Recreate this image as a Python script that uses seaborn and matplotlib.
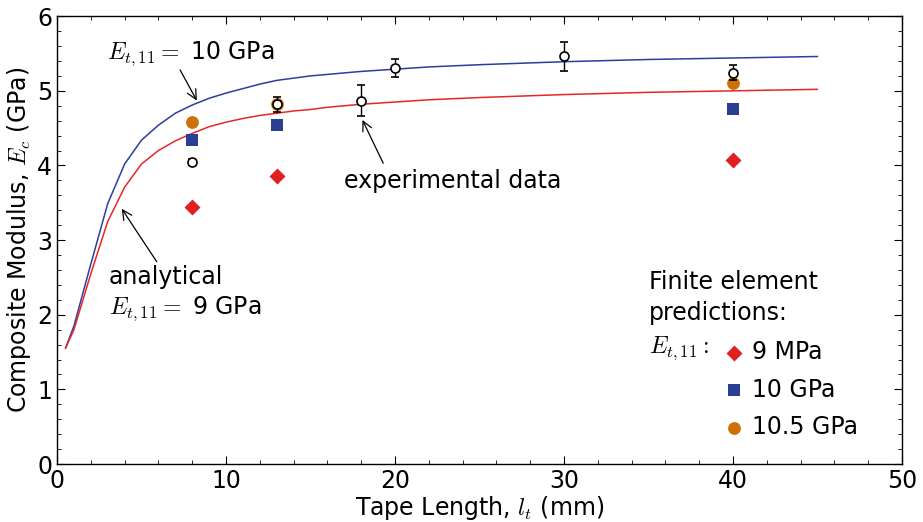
import numpy as np
import pandas as pd
import matplotlib
matplotlib.use("Agg")
import matplotlib.pyplot as plt
import seaborn as sns

# ── Data ────────────────────────────────────────────────────
# analytical curves
tape_len = [0.5, 1, 2, 3, 4, 5, 6, 7, 8, 9, 10, 11, 12, 13, 14, 15, 16, 17, 18,
            20, 22, 25, 30, 35, 40, 45]
analytic_10gpa = [1.55, 1.85, 2.68, 3.49, 4.02, 4.34, 4.54, 4.70, 4.81, 4.90, 4.97,
                  5.03, 5.09, 5.14, 5.17, 5.20, 5.22, 5.24, 5.26, 5.29, 5.32, 5.35,
                  5.39, 5.42, 5.44, 5.46]
analytic_9gpa = [1.55, 1.80, 2.55, 3.25, 3.71, 4.02, 4.20, 4.33, 4.43, 4.52, 4.58,
                 4.63, 4.67, 4.70, 4.73, 4.75, 4.78, 4.80, 4.82, 4.85, 4.88, 4.91,
                 4.95, 4.98, 5.00, 5.02]

# experimental data
exp_len = [8, 13, 18, 20, 30, 40]
exp_mod = [4.05, 4.82, 4.87, 5.30, 5.46, 5.24]
exp_err = [0.04, 0.10, 0.21, 0.12, 0.19, 0.10]

# finite element predictions
fe_len = [8, 13, 40]
fe_9mpa = [3.45, 3.86, 4.08]
fe_10gpa = [4.34, 4.54, 4.76]
fe_105gpa = [4.58, 4.82, 5.10]

# ── Style ───────────────────────────────────────────────────
sns.set_style("ticks", {"xtick.direction": "in", "ytick.direction": "in"})
plt.rcParams["font.family"] = ["DejaVu Sans"]
plt.rcParams["mathtext.fontset"] = "cm"
plt.rcParams["font.size"] = 17
for key in ["text.color", "axes.labelcolor", "xtick.color", "ytick.color",
            "axes.edgecolor"]:
    plt.rcParams[key] = "black"

BLUE = "#2a3f9e"
RED = "#e8262a"
SQ_BLUE = "#283f94"
ORANGE = "#cc7107"
DIAMOND_RED = "#e01f22"
FS = 17

fig = plt.figure(figsize=(9.23, 5.22), dpi=100)
ax = fig.add_axes([0.0618, 0.111, 0.9155, 0.858])

# ── Analytical curves ───────────────────────────────────────
sns.lineplot(x=tape_len, y=analytic_10gpa, color=BLUE, lw=1.1, ax=ax)
sns.lineplot(x=tape_len, y=analytic_9gpa, color=RED, lw=1.1, ax=ax)

# ── FE predictions ──────────────────────────────────────────
h1 = ax.scatter(fe_len, fe_9mpa, marker="D", s=66, color=DIAMOND_RED,
                linewidths=0, zorder=3, label="9 MPa")
h2 = ax.scatter(fe_len, fe_10gpa, marker="s", s=80, color=SQ_BLUE,
                linewidths=0, zorder=3, label="10 GPa")
h3 = ax.scatter(fe_len, fe_105gpa, marker="o", s=85, color=ORANGE,
                linewidths=0, zorder=3, label="10.5 GPa")

# ── Experimental data ───────────────────────────────────────
ax.errorbar(exp_len, exp_mod, yerr=exp_err, fmt="o", ms=6.5, mfc="white",
            mec="black", mew=1.2, ecolor="black", elinewidth=1.0, capsize=3,
            capthick=1.0, zorder=4)

# ── Axes ────────────────────────────────────────────────────
ax.set_xlim(0, 50)
ax.set_ylim(0, 6)
ax.set_xticks(np.arange(0, 51, 10))
ax.set_yticks(np.arange(0, 7, 1))
ax.set_xticks(np.arange(0, 51, 2), minor=True)
ax.set_yticks(np.arange(0, 6.01, 0.2), minor=True)
ax.tick_params(which="both", direction="in", top=True, right=True, labelsize=FS)
ax.tick_params(which="major", length=6, width=0.8)
ax.tick_params(which="minor", length=3, width=0.6)
for s in ax.spines.values():
    s.set_color("black")
    s.set_linewidth(1.0)
ax.set_xlabel(r"Tape Length, $l_t$ (mm)", fontsize=FS, labelpad=1)
ax.set_ylabel(r"Composite Modulus, $E_c$ (GPa)", fontsize=FS, labelpad=3)

# ── Annotations ─────────────────────────────────────────────
arrow = dict(arrowstyle="->", color="black", lw=0.9, shrinkA=0, shrinkB=0)
ax.text(2.96, 5.5, r"$E_{t,11} =$ 10 GPa", fontsize=FS, va="center", ha="left")
ax.annotate("", xy=(8.27, 4.87), xytext=(7.28, 5.28), arrowprops=arrow)

ax.text(17.0, 3.79, "experimental data", fontsize=FS, va="center", ha="left")
ax.annotate("", xy=(18.07, 4.61), xytext=(19.3, 4.03), arrowprops=arrow)

ax.text(3.08, 2.51, "analytical", fontsize=FS, va="center", ha="left")
ax.text(3.08, 2.08, r"$E_{t,11} =$ 9 GPa", fontsize=FS, va="center", ha="left")
ax.annotate("", xy=(3.83, 3.42), xytext=(5.9, 2.71), arrowprops=arrow)

ax.text(35.0, 2.44, "Finite element", fontsize=FS, va="center", ha="left")
ax.text(35.0, 2.02, "predictions:", fontsize=FS, va="center", ha="left")
ax.text(35.0, 1.55, r"$E_{t,11}:$", fontsize=FS, va="center", ha="left")

ax.legend(handles=[h1, h2, h3], loc="upper left", bbox_to_anchor=(0.787, 0.277),
          frameon=False, fontsize=FS, borderpad=0, borderaxespad=0,
          handlelength=1.0, handletextpad=0.25, labelspacing=0.58)

fig.savefig("out.png", dpi=100)
